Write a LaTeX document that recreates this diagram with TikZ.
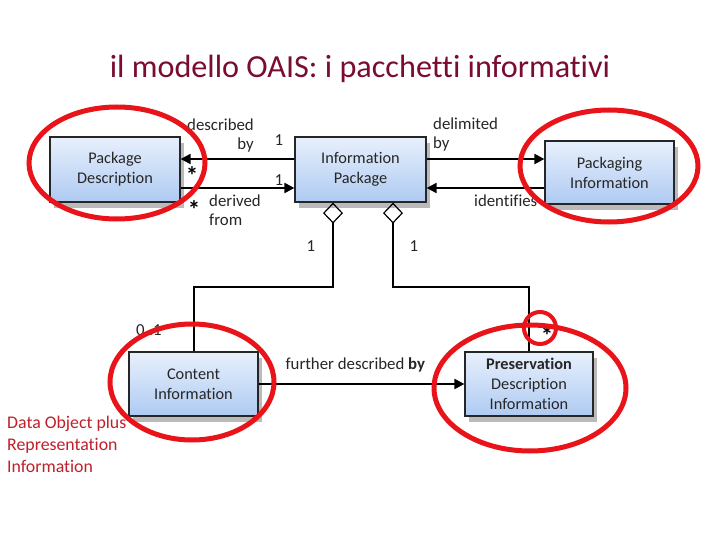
\documentclass[tikz,border=0pt]{standalone}
\usepackage{fontspec}
\setmainfont[Ligatures=NoCommon]{Carlito}
\usetikzlibrary{arrows.meta,shadows}
\definecolor{titlered}{RGB}{122,12,52}
\definecolor{notered}{RGB}{192,32,42}
\definecolor{ringred}{RGB}{232,20,26}
\definecolor{boxtop}{RGB}{232,240,252}
\definecolor{boxbot}{RGB}{174,202,242}
\begin{document}
\begin{tikzpicture}[x=1pt,y=-1pt,
    umlbox/.style={draw=black!85, line width=1.2pt, top color=boxtop, bottom color=boxbot,
      drop shadow={shadow xshift=4pt, shadow yshift=-6pt, fill=black!45, opacity=.6},
      align=center, inner sep=0pt, text=black!85, font=\fontsize{16.3}{20}\selectfont},
    lbl/.style={inner sep=0pt, text=black!85, font=\fontsize{16.8}{19}\selectfont},
    star/.style={inner sep=0pt, font=\fontsize{25}{25}\selectfont\bfseries},
    link/.style={line width=2pt},
    arr/.style={link, -{Triangle[length=10pt,width=10pt]}},
    agg/.style={link, {Diamond[open,length=21pt,width=20pt,line width=1.2pt]}-},
    ring/.style={draw=ringred, line width=5pt}]
  \fill[white] (0,0) rectangle (720,540);
  \useasboundingbox (0,0) rectangle (720,540);

  \node[anchor=base, text=titlered, font=\fontsize{32.2}{36}\selectfont] (title) at (360,78)
    {il modello OAIS: i pacchetti informativi};

  \node[umlbox, minimum width=130pt, minimum height=65pt] (pkgdesc) at (115,169.5) {Package\\Description};
  \node[umlbox, minimum width=131pt, minimum height=65pt] (infopkg) at (360.5,169.5) {Information\\Package};
  \node[umlbox, minimum width=129pt, minimum height=63pt] (packinfo) at (609.5,172.5) {Packaging\\Information};
  \node[umlbox, minimum width=129pt, minimum height=64pt] (contentinfo) at (193.5,384) {Content\\Information};
  \node[umlbox, minimum width=128pt, minimum height=64pt] (presdesc) at (529,384)
    {\textbf{Preservation}\\Description\\Information};

  \draw[arr] ([yshift=10.5pt]infopkg.west) -- ([yshift=10.5pt]pkgdesc.east);
  \draw[arr] ([yshift=-18.5pt]pkgdesc.east) -- ([yshift=-18.5pt]infopkg.west);
  \draw[arr] ([yshift=10.5pt]infopkg.east) coordinate (delim) -- (delim -| packinfo.west);
  \draw[arr] ([yshift=-15.5pt]packinfo.west) coordinate (ident) -- (ident -| infopkg.east);
  \draw[agg] ([xshift=-27.5pt]infopkg.south) |- ([yshift=64pt]contentinfo.north) -- (contentinfo.north);
  \draw[agg] ([xshift=32.5pt]infopkg.south) |- ([yshift=64pt]presdesc.north) -- (presdesc.north);
  \draw[arr] (contentinfo.east) -- node[lbl, pos=.47, above=11pt] (furtherlbl) {further described \textbf{by}} (presdesc.west);

  \node[lbl, align=right, anchor=east] (desclbl) at (254,135.5) {described\\by};
  \node[lbl] (descone) at (279,140) {1};
  \node[star] (descstar) at (192,176) {*};
  \node[lbl] (derivone) at (279,180) {1};
  \node[star] (derivstar) at (194,210) {*};
  \node[lbl, align=left, anchor=west] (derivlbl) at (209,210.5) {derived\\from};
  \node[lbl, align=left, anchor=west] (delimlbl) at (433,135) {delimited\\by};
  \node[lbl, anchor=west] (identlbl) at (474,201) {identifies};
  \node[lbl] (contone) at (311,246) {1};
  \node[lbl] (presone) at (414,246) {1};
  \node[lbl] (contmult) at (149,330) {0..1};
  \node[star] (presstar) at (547,336) {*};

  \node[anchor=north west, align=left, inner sep=0pt, text=notered, font=\fontsize{17.8}{22}\selectfont]
    (note) at (7,416) {Data Object plus\\Representation\\Information};

  \draw[ring] (117,163) ellipse [x radius=88, y radius=56];
  \draw[ring] (609,166) ellipse [x radius=89, y radius=56];
  \draw[ring] (192,382) ellipse [x radius=82, y radius=58];
  \draw[ring] (530,388) ellipse [x radius=96, y radius=63];
  \draw[ring, line width=4pt] (540,328) circle [radius=16];
\end{tikzpicture}
\end{document}
